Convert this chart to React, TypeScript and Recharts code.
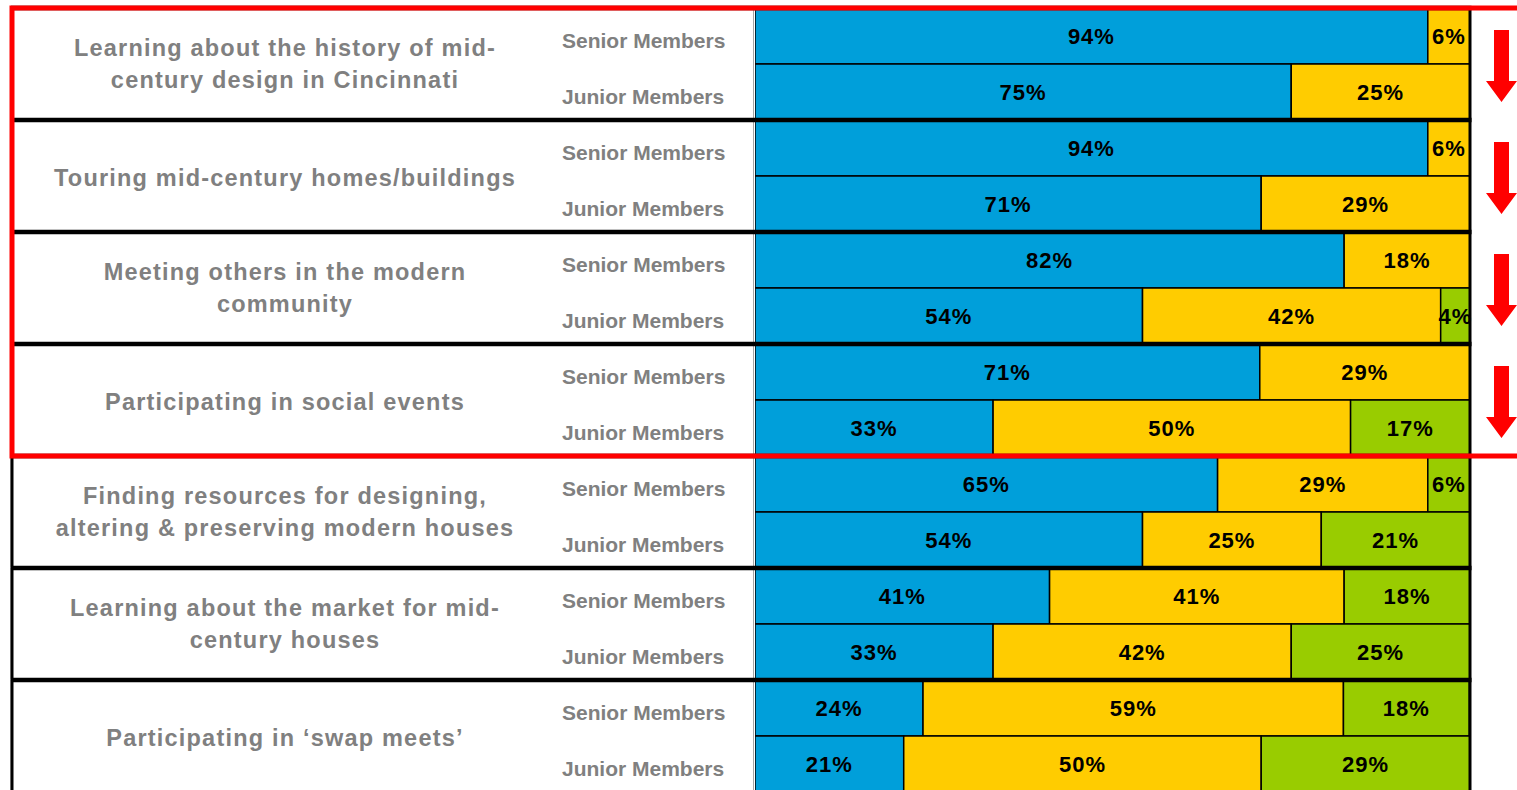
import { Bar, BarChart, LabelList, XAxis, YAxis } from 'recharts'

// survey rows: one category = senior row + junior row
const categories = [
  ['Learning about the history of mid-', 'century design in Cincinnati'],
  ['Touring mid-century homes/buildings'],
  ['Meeting others in the modern', 'community'],
  ['Participating in social events'],
  ['Finding resources for designing,', 'altering & preserving modern houses'],
  ['Learning about the market for mid-', 'century houses'],
  ['Participating in \u2018swap meets\u2019'],
]
const memberGroups = ['Senior Members', 'Junior Members']
const flagged = [true, true, true, true, false, false, false]

const blueShare = [94.1, 75, 94.1, 70.8, 82.4, 54.2, 70.6, 33.3, 64.7, 54.2, 41.2, 33.3, 23.5, 20.8]
const yellowShare = [5.9, 25, 5.9, 29.2, 17.6, 41.7, 29.4, 50, 29.4, 25, 41.2, 41.7, 58.8, 50]
const greenShare = [0, 0, 0, 0, 0, 4.1, 0, 16.7, 5.9, 20.8, 17.6, 25, 17.6, 29.2]

const W = 1517
const H = 800
const TOP = 8
const LEFT_W = 755
const RIGHT_W = 47
const PLOT_RIGHT = W - RIGHT_W
const TABLE_LEFT = 11
const BAND = (H - TOP * 2) / blueShare.length
const FONT = "'Liberation Sans', Arial, Helvetica, sans-serif"

const rows = blueShare.map((v, i) => ({
  row: `r${i}`,
  group: Math.floor(i / 2),
  member: memberGroups[i % 2],
  high: v,
  mid: yellowShare[i],
  low: greenShare[i],
}))

function LeftTick(props: any) {
  const { y, index } = props
  const g = Math.floor(index / 2)
  const isSenior = index % 2 === 0
  const groupTop = isSenior ? y - BAND / 2 : y - BAND * 1.5
  const lines = categories[g]
  const mid = groupTop + BAND + (lines.length === 1 ? 2 : 0)
  return (
    <g>
      {isSenior && (
        <>
          <rect
            x={TABLE_LEFT}
            y={groupTop}
            width={LEFT_W - TABLE_LEFT - 1.5}
            height={BAND * 2}
            fill="#fff"
            stroke="#a6a6a6"
            strokeWidth={1}
          />
          <line x1={TABLE_LEFT + 1} x2={TABLE_LEFT + 1} y1={groupTop} y2={groupTop + BAND * 2} stroke="#000" strokeWidth={3} />
          <line x1={PLOT_RIGHT} x2={PLOT_RIGHT} y1={groupTop} y2={groupTop + BAND * 2} stroke="#000" strokeWidth={3} />
          <line x1={TABLE_LEFT} x2={PLOT_RIGHT + 1.5} y1={groupTop} y2={groupTop} stroke="#000" strokeWidth={4.5} />
          {lines.map((t, k) => (
            <text
              key={k}
              x={285}
              y={mid + (k - (lines.length - 1) / 2) * 32}
              textAnchor="middle"
              dominantBaseline="central"
              fill="#808080"
              fontFamily={FONT}
              fontWeight="bold"
              fontSize={23.5}
              letterSpacing={1.2}
            >
              {t}
            </text>
          ))}
        </>
      )}
      <text
        x={562}
        y={y + 4.5}
        dominantBaseline="central"
        fill="#808080"
        fontFamily={FONT}
        fontWeight="bold"
        fontSize={21}
      >
        {rows[index].member}
      </text>
    </g>
  )
}

function RightTick(props: any) {
  const { y, index } = props
  const g = Math.floor(index / 2)
  if (index % 2 !== 0) return <g />
  const groupTop = y - BAND / 2
  const first = flagged.indexOf(true)
  const nFlagged = flagged.filter(Boolean).length
  const cx = PLOT_RIGHT + 31.5
  const top = groupTop + 22
  const headTop = groupTop + 73
  const tip = groupTop + 94
  return (
    <g>
      {flagged[g] && (
        <polygon
          points={`${cx - 7.5},${top} ${cx + 7.5},${top} ${cx + 7.5},${headTop} ${cx + 15.5},${headTop} ${cx},${tip} ${cx - 15.5},${headTop} ${cx - 7.5},${headTop}`}
          fill="#ff0000"
        />
      )}
      {g === first && (
        <rect
          x={TABLE_LEFT + 1}
          y={groupTop}
          width={W + 20}
          height={nFlagged * 2 * BAND}
          fill="none"
          stroke="#ff0000"
          strokeWidth={5}
        />
      )}
    </g>
  )
}

const pct = (v: any) => (Number(v) > 0 ? `${Math.round(Number(v))}%` : '')

const labelStyle = {
  fill: '#000',
  fontSize: 22,
  fontWeight: 'bold' as const,
  fontFamily: FONT,
  letterSpacing: 1,
}

export default function App() {
  return (
    <div
      style={{
        position: 'fixed',
        left: 0,
        top: 0,
        width: W,
        height: 790,
        overflow: 'hidden',
        background: '#fff',
      }}
    >
      <BarChart
        width={W}
        height={H}
        data={rows}
        layout="vertical"
        barCategoryGap={0}
        margin={{ top: TOP, right: 0, left: 0, bottom: TOP }}
      >
        <XAxis type="number" domain={[0, 100]} allowDataOverflow hide />
        <Bar dataKey="high" stackId="s" yAxisId="left" fill="#009FDA" stroke="#000" strokeWidth={1.5} isAnimationActive={false}>
          <LabelList dataKey="high" position="center" formatter={pct} {...labelStyle} />
        </Bar>
        <Bar dataKey="mid" stackId="s" yAxisId="left" fill="#FFCC00" stroke="#000" strokeWidth={1.5} isAnimationActive={false}>
          <LabelList dataKey="mid" position="center" formatter={pct} {...labelStyle} />
        </Bar>
        <Bar dataKey="low" stackId="s" yAxisId="left" fill="#99CC00" stroke="#000" strokeWidth={1.5} isAnimationActive={false}>
          <LabelList dataKey="low" position="center" formatter={pct} {...labelStyle} />
        </Bar>
        <YAxis
          yAxisId="left"
          type="category"
          dataKey="row"
          width={LEFT_W}
          interval={0}
          axisLine={false}
          tickLine={false}
          tickSize={0}
          tickMargin={0}
          tick={(p: any) => <LeftTick {...p} />}
        />
        <YAxis
          yAxisId="right"
          orientation="right"
          type="category"
          dataKey="row"
          width={RIGHT_W}
          interval={0}
          axisLine={false}
          tickLine={false}
          tickSize={0}
          tick={(p: any) => <RightTick {...p} />}
        />
      </BarChart>
    </div>
  )
}
